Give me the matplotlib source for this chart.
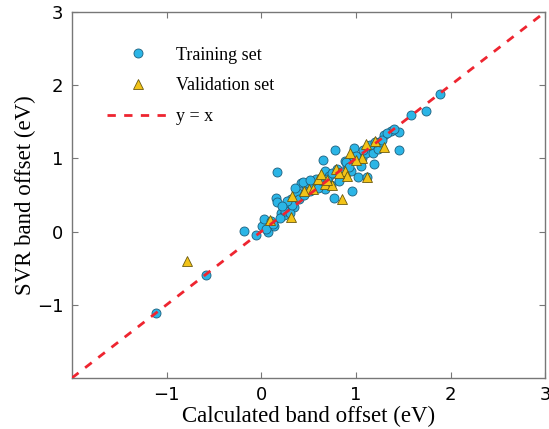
import matplotlib
matplotlib.use("Agg")
import matplotlib.pyplot as plt

# Training set: calculated vs SVR band offset (eV)
train_calc = [-1.11, -0.58, -0.18, -0.06, 0.01, 0.03, 0.07, 0.10, 0.13, 0.16,
              0.17, 0.17, 0.21, 0.24, 0.28, 0.31, 0.35, 0.38, 0.42, 0.47,
              0.49, 0.56, 0.63, 0.65, 0.67, 0.67, 0.72, 0.74, 0.77, 0.78,
              0.81, 0.82, 0.88, 0.91, 0.95, 0.96, 0.98, 0.98, 1.02, 1.05,
              1.06, 1.11, 1.12, 1.18, 1.19, 1.23, 1.26, 1.30, 1.37, 1.46,
              1.46, 1.58, 1.74, 1.89,
              0.05, 0.12, 0.20, 0.25, 0.30, 0.33, 0.40, 0.45, 0.52, 0.55,
              0.60, 0.62, 0.70, 0.75, 0.80, 0.85, 0.90, 0.93, 1.00, 1.08,
              1.15, 1.20, 1.28, 1.33, 1.40, 0.58, 0.36, 0.44, 0.52, 0.27,
              0.22]
train_svr = [-1.11, -0.59, 0.01, -0.05, 0.08, 0.17, -0.01, 0.15, 0.07, 0.46,
             0.40, 0.81, 0.26, 0.22, 0.33, 0.44, 0.33, 0.54, 0.67, 0.58,
             0.67, 0.68, 0.69, 0.98, 0.83, 0.58, 0.76, 0.63, 0.46, 1.12,
             0.78, 0.69, 0.97, 0.90, 0.83, 0.56, 0.99, 1.14, 0.74, 0.90,
             1.01, 1.08, 0.74, 1.08, 0.92, 1.13, 1.22, 1.32, 1.38, 1.36,
             1.12, 1.59, 1.65, 1.88,
             0.03, 0.10, 0.18, 0.28, 0.25, 0.36, 0.45, 0.50, 0.55, 0.62,
             0.60, 0.70, 0.72, 0.80, 0.85, 0.82, 0.95, 0.88, 1.03, 1.12,
             1.18, 1.22, 1.25, 1.35, 1.40, 0.72, 0.60, 0.68, 0.70, 0.42,
             0.35]

# Validation set
val_calc = [-0.78, 0.09, 0.31, 0.32, 0.51, 0.60, 0.63, 0.67, 0.75, 0.79,
            0.85, 0.88, 0.91, 0.94, 1.06, 1.11, 1.12, 1.20, 1.30,
            0.70, 0.82, 0.55, 1.00, 0.45]
val_svr = [-0.40, 0.16, 0.20, 0.49, 0.58, 0.72, 0.79, 0.65, 0.63, 0.86,
           0.45, 0.83, 0.76, 1.08, 1.01, 1.20, 0.74, 1.24, 1.15,
           0.70, 0.80, 0.58, 0.98, 0.55]

ticks = [-1, 0, 1, 2, 3]
lims = [-2, 3]

serif = ['Liberation Serif', 'DejaVu Serif']

fig = plt.figure(figsize=(5.49, 4.29), dpi=100)
ax = fig.add_axes([0.131, 0.119, 0.862, 0.853])

ax.plot(train_calc, train_svr, 'o', ms=6.5, mfc='#2bb5e6', mec='#1d5f7d',
        mew=0.6, label='Training set', zorder=2)
ax.plot(val_calc, val_svr, '^', ms=6.5, mfc='#f2c318', mec='#6b5a10',
        mew=0.6, label='Validation set', zorder=3)
ax.plot(lims, lims, '--', color='#ee2530', lw=2, dashes=(3, 3),
        label='y = x', zorder=4)

ax.set_xlim(lims)
ax.set_ylim(lims)
ax.set_xticks(ticks)
ax.set_yticks(ticks)
ax.tick_params(direction='in', top=True, right=True, length=4, width=0.8,
               color='#777777', labelsize=13, pad=6)
for s in ax.spines.values():
    s.set_color('#777777')
    s.set_linewidth(1.0)

ax.set_xlabel('Calculated band offset (eV)', family=serif, fontsize=16.5, labelpad=1)
ax.set_ylabel('SVR band offset (eV)', family=serif, fontsize=16.5, labelpad=1)

ax.legend(loc='upper left', bbox_to_anchor=(0.074, 0.905), frameon=False,
          prop={'family': serif, 'size': 13}, numpoints=1, handlelength=3.4,
          handletextpad=0.4, labelspacing=0.75, borderpad=0, borderaxespad=0)

fig.savefig('out.png', dpi=100)
